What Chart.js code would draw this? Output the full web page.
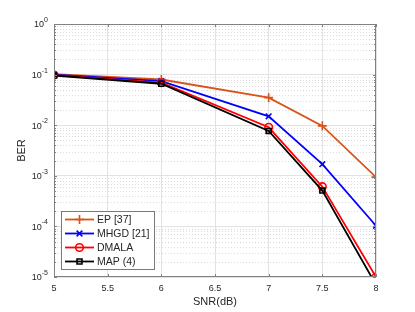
<!DOCTYPE html>
<html>
<head>
<meta charset="utf-8">
<script src="https://cdn.jsdelivr.net/npm/chart.js@4/dist/chart.umd.min.js"></script>
<style>
  html, body { margin: 0; padding: 0; background: #fff; }
  #wrap { width: 415px; height: 312px; }
</style>
</head>
<body>
<div id="wrap"><canvas id="berChart"></canvas></div>
<script>
// Data
const snr = [5, 6, 7, 7.5, 8];
const xTicks = [5, 5.5, 6, 6.5, 7, 7.5, 8];
const yDecades = [1e-5, 1e-4, 1e-3, 1e-2, 1e-1, 1];
const yExponents = ['-5', '-4', '-3', '-2', '-1', '0'];

const berEP = [0.102, 0.08, 0.035, 0.0097, 0.00094];
const berMHGD = [0.1, 0.074, 0.015, 0.0017, 0.000103];
const berDMALA = [0.098, 0.069, 0.0091, 0.00061, 0.00001];
const berMAP = [0.096, 0.066, 0.0077, 0.00051, 0.000007];

const seriesNames = ['EP [37]', 'MHGD [21]', 'DMALA', 'MAP (4)'];

const FONT = 'Liberation Sans, Arial, Helvetica, sans-serif';
const AXIS_COLOR = '#808080';
const TEXT_COLOR = '#262626';

// minor grid, box, inward ticks, y labels with exponents, legend
const matlabLook = {
    id: 'matlabLook',
    beforeDatasetsDraw(chart) {
        const { ctx, chartArea: a, scales: { y } } = chart;
        ctx.save();
        ctx.strokeStyle = '#dcdcdc';
        ctx.lineWidth = 1;
        ctx.setLineDash([1, 2]);
        for (let i = 0; i < yDecades.length - 1; i++) {
            for (let m = 2; m <= 9; m++) {
                const py = Math.round(y.getPixelForValue(yDecades[i] * m)) + 0.5;
                ctx.beginPath();
                ctx.moveTo(a.left, py);
                ctx.lineTo(a.right, py);
                ctx.stroke();
            }
        }
        ctx.restore();
    },
    afterDatasetsDraw(chart) {
        const { ctx, chartArea: a, scales: { x, y } } = chart;
        ctx.save();
        ctx.strokeStyle = AXIS_COLOR;
        ctx.lineWidth = 1;
        ctx.strokeRect(a.left + 0.5, a.top + 0.5, a.right - a.left - 1, a.bottom - a.top - 1);

        // x ticks, top and bottom
        ctx.beginPath();
        xTicks.forEach(v => {
            const px = Math.round(x.getPixelForValue(v)) + 0.5;
            ctx.moveTo(px, a.bottom); ctx.lineTo(px, a.bottom - 3);
            ctx.moveTo(px, a.top); ctx.lineTo(px, a.top + 3);
        });
        // y ticks, left and right
        yDecades.forEach((d, i) => {
            const py = Math.round(y.getPixelForValue(d)) + 0.5;
            ctx.moveTo(a.left, py); ctx.lineTo(a.left + 3, py);
            ctx.moveTo(a.right, py); ctx.lineTo(a.right - 3, py);
            if (i < yDecades.length - 1) {
                for (let m = 2; m <= 9; m++) {
                    const pm = Math.round(y.getPixelForValue(d * m)) + 0.5;
                    ctx.moveTo(a.left, pm); ctx.lineTo(a.left + 2, pm);
                    ctx.moveTo(a.right, pm); ctx.lineTo(a.right - 2, pm);
                }
            }
        });
        ctx.stroke();

        // y tick labels: 10^n
        ctx.fillStyle = TEXT_COLOR;
        ctx.textBaseline = 'middle';
        yDecades.forEach((d, i) => {
            const py = y.getPixelForValue(d);
            ctx.font = '7px ' + FONT;
            ctx.textAlign = 'left';
            const expW = ctx.measureText(yExponents[i]).width;
            const expX = a.left - 6 - expW;
            ctx.fillText(yExponents[i], expX, py - 4);
            ctx.font = '9px ' + FONT;
            ctx.textAlign = 'right';
            ctx.fillText('10', expX, py + 1);
        });

        // legend
        const box = { left: 61, top: 211, width: 93, height: 58 };
        ctx.fillStyle = '#fff';
        ctx.fillRect(box.left, box.top, box.width, box.height);
        ctx.strokeStyle = '#7a7a7a';
        ctx.strokeRect(box.left + 0.5, box.top + 0.5, box.width, box.height);
        chart.data.datasets.forEach((ds, i) => {
            const cy = box.top + 8.5 + i * 14;
            ctx.strokeStyle = ds.borderColor;
            ctx.lineWidth = ds.borderWidth;
            ctx.setLineDash([]);
            ctx.beginPath();
            ctx.moveTo(box.left + 4, cy);
            ctx.lineTo(box.left + 33, cy);
            ctx.stroke();
            ctx.lineWidth = ds.pointBorderWidth;
            ctx.fillStyle = 'rgba(0,0,0,0)';
            Chart.helpers.drawPoint(ctx, {
                pointStyle: ds.pointStyle,
                radius: ds.pointRadius,
                rotation: 0,
                borderWidth: ds.pointBorderWidth
            }, box.left + 18.5, cy);
            ctx.fillStyle = TEXT_COLOR;
            ctx.font = '10.5px ' + FONT;
            ctx.textAlign = 'left';
            ctx.textBaseline = 'middle';
            ctx.fillText(ds.label, box.left + 36, cy + 0.5);
        });
        ctx.restore();
    }
};

function makeSeries(label, data, color, style, radius, order) {
    return {
        label: label,
        data: snr.map((s, i) => ({ x: s, y: data[i] })),
        borderColor: color,
        backgroundColor: 'rgba(0,0,0,0)',
        borderWidth: 1.8,
        pointStyle: style,
        pointRadius: radius,
        pointHoverRadius: radius,
        pointBorderColor: color,
        pointBackgroundColor: 'rgba(0,0,0,0)',
        pointBorderWidth: 1.6,
        tension: 0,
        fill: false,
        order: order
    };
}

const ctx = document.getElementById('berChart');
new Chart(ctx, {
    type: 'line',
    data: {
        datasets: [
            makeSeries(seriesNames[0], berEP, '#D95319', 'cross', 4.5, 4),
            makeSeries(seriesNames[1], berMHGD, '#0000FF', 'crossRot', 4, 3),
            makeSeries(seriesNames[2], berDMALA, '#FF0000', 'circle', 3.8, 2),
            makeSeries(seriesNames[3], berMAP, '#000000', 'rect', 3.5, 1)
        ]
    },
    options: {
        responsive: true,
        maintainAspectRatio: false,
        animation: false,
        events: [],
        layout: { padding: { top: 24, right: 39, left: 0, bottom: 0 } },
        plugins: {
            legend: { display: false },
            tooltip: { enabled: false }
        },
        scales: {
            x: {
                type: 'linear',
                min: 5,
                max: 8,
                afterBuildTicks: (scale) => { scale.ticks = xTicks.map(v => ({ value: v })); },
                afterFit: (scale) => { scale.height = 35; },
                border: { display: false },
                grid: { color: '#e2e2e2', lineWidth: 1, drawTicks: false },
                ticks: {
                    color: TEXT_COLOR,
                    font: { family: FONT, size: 9 },
                    padding: 6,
                    maxRotation: 0,
                    callback: (v) => String(v)
                },
                title: {
                    display: true,
                    text: 'SNR(dB)',
                    color: TEXT_COLOR,
                    font: { family: FONT, size: 11 },
                    padding: { top: 0, bottom: 3.5 }
                }
            },
            y: {
                type: 'logarithmic',
                min: 1e-5,
                max: 1,
                afterBuildTicks: (scale) => { scale.ticks = yDecades.map(v => ({ value: v })); },
                afterFit: (scale) => { scale.width = 54; },
                border: { display: false },
                grid: { color: '#e2e2e2', lineWidth: 1, drawTicks: false },
                ticks: { display: false },
                title: {
                    display: true,
                    text: 'BER',
                    color: TEXT_COLOR,
                    font: { family: FONT, size: 11 },
                    padding: { top: 15.5, bottom: 0 }
                }
            }
        }
    },
    plugins: [matlabLook]
});
</script>
</body>
</html>
